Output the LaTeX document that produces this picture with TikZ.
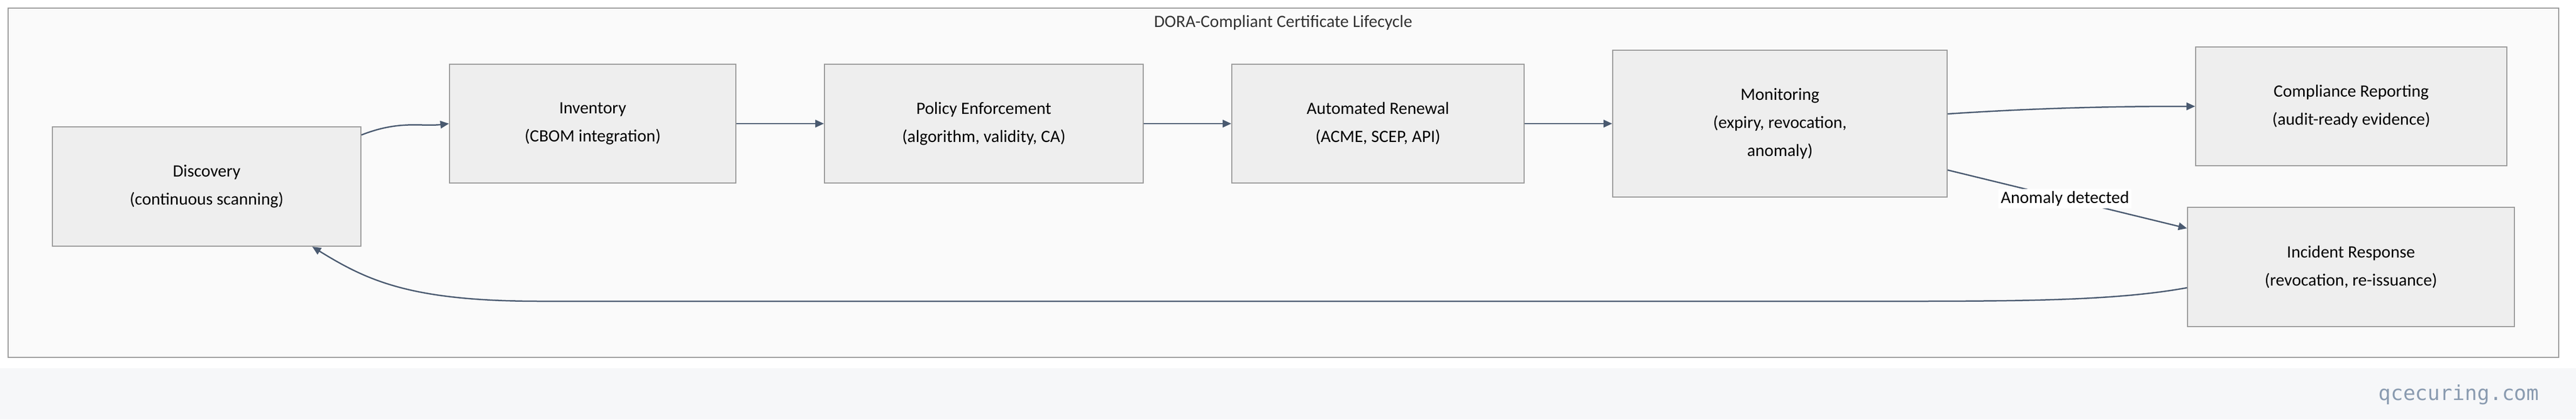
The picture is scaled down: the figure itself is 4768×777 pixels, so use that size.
\documentclass[tikz,border=0pt]{standalone}
\usepackage{fontspec}
\setmainfont{Carlito}
\setmonofont{DejaVu Sans Mono}
\usetikzlibrary{arrows.meta}
\definecolor{edge}{HTML}{4A5A70}
\definecolor{boxfill}{HTML}{EEEEEE}
\definecolor{boxdraw}{HTML}{999999}
\definecolor{framefill}{HTML}{FAFAFA}
\definecolor{band}{HTML}{F6F7F9}
\definecolor{wm}{HTML}{8A9BB0}
\begin{document}
\begin{tikzpicture}[x=1pt,y=-1pt,
  box/.style={draw=boxdraw,fill=boxfill,line width=2pt,align=center,font=\fontsize{32}{52}\selectfont,inner sep=0pt},
  arr/.style={draw=edge,line width=2.5pt,-{Triangle[length=16pt,width=14pt]}}]
\useasboundingbox (0,0) rectangle (4768,777);
\fill[white] (0,0) rectangle (4768,682);
\fill[band] (0,682) rectangle (4768,777);
\draw[draw=boxdraw,fill=framefill,line width=2.5pt] (15,15) rectangle (4736,662);
\node[font=\fontsize{32}{38}\selectfont,text=black!80] (title) at (2375,42) {DORA-Compliant Certificate Lifecycle};
\node[box,minimum width=571pt,minimum height=221pt] (disc) at (382.5,345.5) {Discovery\\(continuous scanning)};
\node[box,minimum width=530pt,minimum height=220pt] (inv) at (1097,229) {Inventory\\(CBOM integration)};
\node[box,minimum width=590pt,minimum height=220pt] (pol) at (1821,229) {Policy Enforcement\\(algorithm, validity, CA)};
\node[box,minimum width=541pt,minimum height=220pt] (ren) at (2550.5,229) {Automated Renewal\\(ACME, SCEP, API)};
\node[box,minimum width=619pt,minimum height=272pt] (mon) at (3294.5,229) {Monitoring\\(expiry, revocation,\\anomaly)};
\node[box,minimum width=576pt,minimum height=220pt] (comp) at (4352,197) {Compliance Reporting\\(audit-ready evidence)};
\node[box,minimum width=605pt,minimum height=221pt] (inc) at (4351.5,494.5) {Incident Response\\(revocation, re-issuance)};
\draw[arr] (disc.east|-0,250) .. controls (740,222) and (780,235) .. (inv.west);
\draw[arr] (inv) -- (pol);
\draw[arr] (pol) -- (ren);
\draw[arr] (ren) -- (mon);
\draw[arr] (mon.east|-0,211) .. controls (3800,198) and (3950,197) .. (comp.west);
\draw[arr] (mon.east|-0,315) -- node[fill=white,font=\fontsize{32}{38}\selectfont,inner sep=4pt,pos=0.49] (lbl) {Anomaly detected} (inc.west|-0,423);
\draw[arr] (inc.west|-0,533) .. controls (3900,560) and (3700,558) .. (3400,558) -- (1000,558) .. controls (760,558) and (680,520) .. (578,457);
\node[font=\ttfamily\fontsize{38}{44}\selectfont,text=wm] (wmk) at (4551,731) {qcecuring.com};
\end{tikzpicture}
\end{document}
